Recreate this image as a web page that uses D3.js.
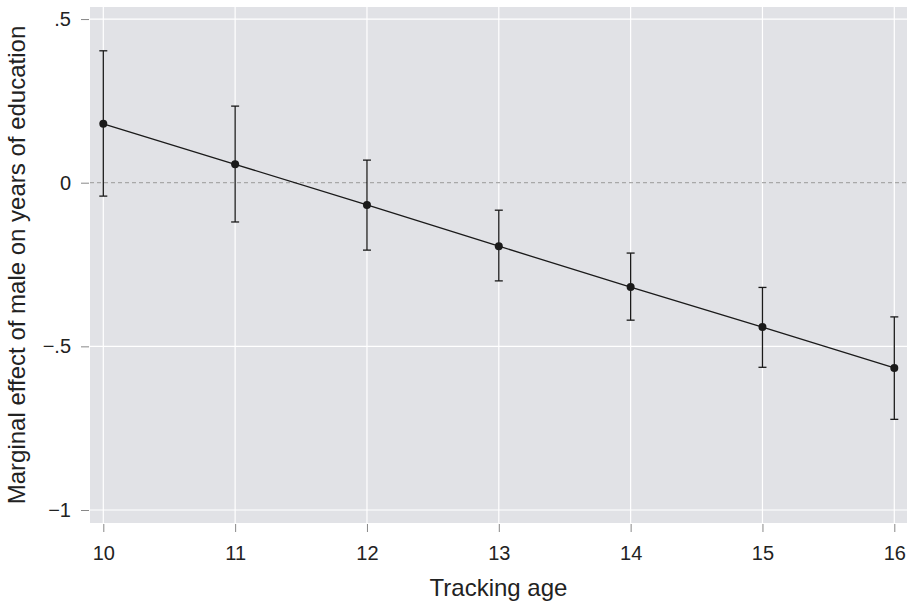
<!DOCTYPE html>
<html>
<head>
<meta charset="utf-8" />
<style>
  body{ margin:0; background:#fff; }
  text{ font-family: "Liberation Sans", Arial, Helvetica, sans-serif; fill:#222; }
</style>
</head>
<body>
<script src="https://d3js.org/d3.v7.min.js"></script>
<script>

// tracking age vs marginal effect with CI
const ages = [10, 11, 12, 13, 14, 15, 16]
const effect = [0.180, 0.056, -0.068, -0.194, -0.319, -0.441, -0.566]
const ciLow = [-0.041, -0.120, -0.206, -0.300, -0.420, -0.564, -0.723]
const ciHigh = [0.403, 0.234, 0.069, -0.084, -0.215, -0.320, -0.410]
const yTicks = [0.5, 0, -0.5, -1]
const yTickLabels = ['.5', '0', '\u2212.5', '\u22121']

const width = 912, height = 602
const plot = {left: 90, right: 907, top: 7, bottom: 523}

const svg = d3.select('body').append('svg').attr('width', width).attr('height', height)

const x = d3.scaleLinear().domain([10, 16]).range([103.3, 894.3])
const y = d3.scaleLinear().domain([0, -1]).range([182.7, 510])

svg.append('rect')
  .attr('x', plot.left).attr('y', plot.top)
  .attr('width', plot.right - plot.left).attr('height', plot.bottom - plot.top)
  .style('fill', '#e1e2e6')

// grid
svg.append('g').selectAll('line').data(ages).enter().append('line')
  .attr('x1', d => x(d)).attr('x2', d => x(d))
  .attr('y1', plot.top).attr('y2', plot.bottom)
  .style('stroke', '#fff').style('stroke-width', 1.2)

svg.append('g').selectAll('line').data(yTicks.filter(d => d != 0)).enter().append('line')
  .attr('x1', plot.left).attr('x2', plot.right)
  .attr('y1', d => y(d)).attr('y2', d => y(d))
  .style('stroke', '#fff').style('stroke-width', 1.2)

svg.append('line')
  .attr('x1', plot.left).attr('x2', plot.right)
  .attr('y1', y(0)).attr('y2', y(0))
  .style('stroke', '#a8a8a8').style('stroke-width', 1.2).style('stroke-dasharray', '4,3')

// y axis
const yAxis = svg.append('g').attr('transform', 'translate(' + (plot.left - 1) + ',0)')
  .call(d3.axisLeft(y).tickValues(yTicks).tickSize(8).tickPadding(10).tickFormat((d, i) => yTickLabels[i]))
yAxis.select('.domain').remove()
yAxis.selectAll('line').style('stroke', '#888')
yAxis.selectAll('text').style('font-size', '20px').style('fill', '#222')

// x axis
const xAxis = svg.append('g').attr('transform', 'translate(0,' + (plot.bottom + 1) + ')')
  .call(d3.axisBottom(x).tickValues(ages).tickSize(8).tickPadding(14).tickFormat(d3.format('d')))
xAxis.select('.domain').remove()
xAxis.selectAll('line').style('stroke', '#888')
xAxis.selectAll('text').style('font-size', '20px').style('fill', '#222')

// titles
svg.append('text')
  .attr('x', (plot.left + plot.right) / 2).attr('y', 596)
  .attr('text-anchor', 'middle').style('font-size', '24px')
  .text('Tracking age')

svg.append('text')
  .attr('transform', 'translate(25,' + ((plot.top + plot.bottom) / 2) + ') rotate(-90)')
  .attr('text-anchor', 'middle').style('font-size', '24px')
  .text('Marginal effect of male on years of education')

// error bars
const bars = svg.append('g')
ages.forEach((a, i) => {
  bars.append('line')
    .attr('x1', x(a)).attr('x2', x(a))
    .attr('y1', y(ciLow[i])).attr('y2', y(ciHigh[i]))
    .style('stroke', '#1a1a1a').style('stroke-width', 1.3)
  ;[ciLow[i], ciHigh[i]].forEach(v => {
    bars.append('line')
      .attr('x1', x(a) - 4).attr('x2', x(a) + 4)
      .attr('y1', y(v)).attr('y2', y(v))
      .style('stroke', '#1a1a1a').style('stroke-width', 1.3)
  })
})

// line
svg.append('path')
  .datum(ages.map((a, i) => [a, effect[i]]))
  .attr('d', d3.line().x(d => x(d[0])).y(d => y(d[1])))
  .style('fill', 'none').style('stroke', '#1a1a1a').style('stroke-width', 1.3)

svg.append('g').selectAll('circle').data(ages).enter().append('circle')
  .attr('cx', d => x(d)).attr('cy', (d, i) => y(effect[i]))
  .attr('r', 4)
  .style('fill', '#1a1a1a')

</script>
</body>
</html>
